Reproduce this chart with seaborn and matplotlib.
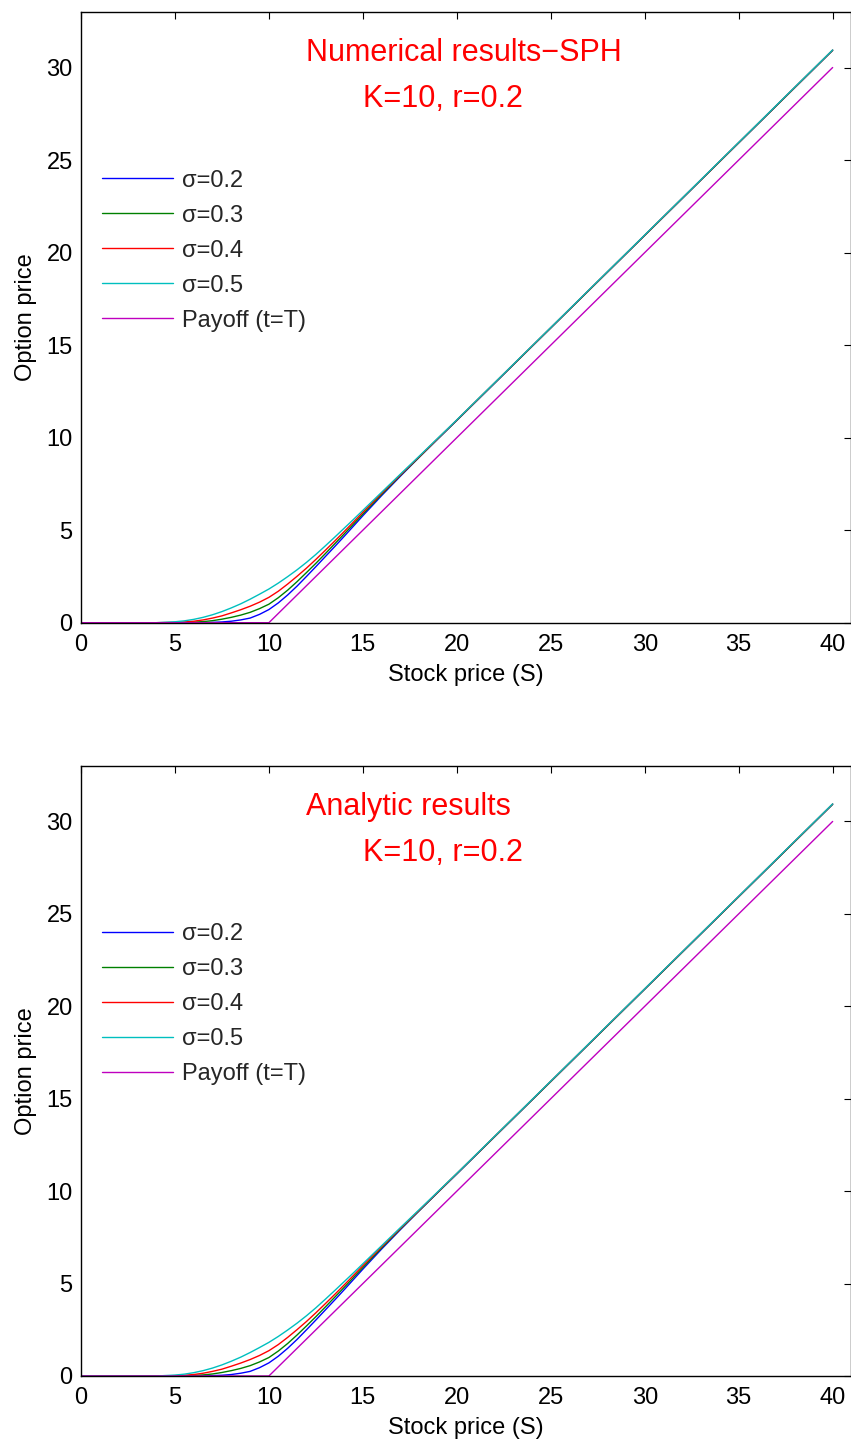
import matplotlib
matplotlib.use("Agg")
import matplotlib.pyplot as plt
import seaborn as sns
import pandas as pd

# Stock price grid (S) and option prices for each volatility
stock_price = [0, 1, 2, 3, 4,
               5, 5.5, 6, 6.5, 7, 7.5, 8, 8.5, 9, 9.5, 10, 10.5, 11, 11.5, 12, 12.5,
               13, 13.5, 14, 14.5, 15,
               16, 17, 18, 19, 20, 25, 30, 35, 40]

price_sigma_02 = [0, 0, 0, 0, 0,
                  0.00, 0.00, 0.00, 0.005, 0.02, 0.04, 0.08, 0.15, 0.25, 0.45, 0.71, 1.07, 1.50, 1.98, 2.50, 3.03,
                  3.57, 4.11, 4.66, 5.22, 5.78,
                  6.87, 7.92, 8.94, 9.94, 10.93, 15.93, 20.93, 25.93, 30.93]
price_sigma_03 = [0, 0, 0, 0, 0,
                  0.00, 0.01, 0.03, 0.06, 0.11, 0.19, 0.29, 0.41, 0.56, 0.76, 1.00, 1.35, 1.76, 2.22, 2.71, 3.21,
                  3.73, 4.26, 4.79, 5.33, 5.87,
                  6.93, 7.96, 8.95, 9.95, 10.94, 15.93, 20.93, 25.93, 30.93]
price_sigma_04 = [0, 0, 0, 0, 0,
                  0.02, 0.04, 0.08, 0.15, 0.25, 0.37, 0.53, 0.70, 0.89, 1.11, 1.37, 1.70, 2.09, 2.51, 2.95, 3.42,
                  3.91, 4.41, 4.92, 5.44, 5.97,
                  6.99, 7.99, 8.97, 9.96, 10.95, 15.94, 20.94, 25.94, 30.94]
price_sigma_05 = [0, 0, 0, 0, 0,
                  0.05, 0.10, 0.18, 0.29, 0.43, 0.60, 0.80, 1.02, 1.27, 1.54, 1.82, 2.14, 2.49, 2.86, 3.26, 3.69,
                  4.15, 4.62, 5.10, 5.58, 6.07,
                  7.05, 8.03, 9.00, 9.98, 10.96, 15.95, 20.95, 25.95, 30.95]

# Payoff at expiry, max(S - K, 0)
payoff_stock = [0, 10, 40]
payoff_value = [0, 0, 30]

series_labels = ["σ=0.2", "σ=0.3", "σ=0.4", "σ=0.5"]
series_colors = ["#0000ff", "#008000", "#ff0000", "#00bfbf"]
payoff_label = "Payoff (t=T)"
payoff_color = "#bf00bf"

panel_titles = ["Numerical results−SPH", "Analytic results"]
params_text = "K=10, r=0.2"
x_ticks = [0, 5, 10, 15, 20, 25, 30, 35, 40]
y_ticks = [0, 5, 10, 15, 20, 25, 30]

sns.set_theme(style="white")
plt.rcParams["font.family"] = ["Liberation Sans", "DejaVu Sans"]
plt.rcParams["axes.unicode_minus"] = True

W, H = 851, 1439
fig = plt.figure(figsize=(W / 100, H / 100), dpi=100)

# axes boxes in pixels: (left, top, right, bottom)
boxes = [(81, 12, 850.5, 622.7), (81, 766, 850.5, 1376)]

series = [price_sigma_02, price_sigma_03, price_sigma_04, price_sigma_05]

for box, title in zip(boxes, panel_titles):
    l, t, r, b = box
    ax = fig.add_axes([l / W, 1 - b / H, (r - l) / W, (b - t) / H])
    ax.set_facecolor("white")

    for vals, lab, col in zip(series, series_labels, series_colors):
        df = pd.DataFrame({"S": stock_price, "V": vals})
        sns.lineplot(data=df, x="S", y="V", color=col, label=lab, lw=1.0, ax=ax)
    dfp = pd.DataFrame({"S": payoff_stock, "V": payoff_value})
    sns.lineplot(data=dfp, x="S", y="V", color=payoff_color, label=payoff_label, lw=1.0, ax=ax)

    ax.set_xlim(0, 40.95)
    ax.set_ylim(0, 33)
    ax.set_xticks(x_ticks)
    ax.set_yticks(y_ticks)
    ax.tick_params(axis="both", which="major", direction="in", length=5, width=0.8,
                   top=True, right=True, labelsize=17, colors="black")
    ax.tick_params(axis="x", pad=8)
    ax.tick_params(axis="y", pad=6)
    for sp in ax.spines.values():
        sp.set_visible(True)
        sp.set_color("black")
        sp.set_linewidth(1.0)

    ax.set_xlabel("Stock price (S)", fontsize=17, labelpad=6, color="black")
    ax.set_ylabel("Option price", fontsize=17, labelpad=7, color="black")

    ax.text(12.0, 30.8, title, color="red", fontsize=22, ha="left", va="center")
    ax.text(15.0, 28.3, params_text, color="red", fontsize=22, ha="left", va="center")

    ax.legend(loc="upper left", bbox_to_anchor=(0.0273, 0.742), frameon=False,
              fontsize=17, handlelength=3.0, handletextpad=0.4, labelspacing=0.55,
              borderpad=0, borderaxespad=0)

fig.savefig("out.png", dpi=100, facecolor="white")
